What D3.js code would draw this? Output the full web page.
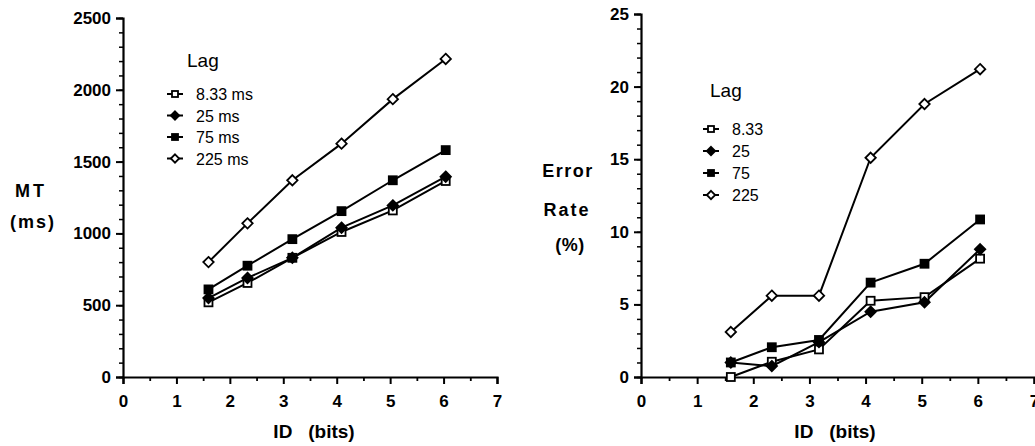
<!DOCTYPE html>
<html>
<head>
<meta charset="utf-8">
<script src="https://cdn.jsdelivr.net/npm/d3@7/dist/d3.min.js"></script>
<style>
  body { margin: 0; background: #fff; }
  svg { display: block; }
  text { font-family: "Liberation Sans", Arial, sans-serif; fill: #000; }
</style>
</head>
<body>
<div id="chart"></div>
<script>
// x positions (ID, bits)
const idBits = [1.6, 2.33, 3.17, 4.09, 5.05, 6.04];
const lags = ["8.33", "25", "75", "225"];

// movement time (ms) per lag
const mt833 = [520, 655, 830, 1010, 1160, 1365];
const mt25 = [550, 690, 830, 1040, 1195, 1395];
const mt75 = [610, 775, 960, 1155, 1370, 1580];
const mt225 = [800, 1070, 1370, 1625, 1935, 2215];

// error rate (%) per lag
const er833 = [0, 1.05, 1.9, 5.25, 5.5, 8.15];
const er25 = [1.0, 0.75, 2.4, 4.5, 5.15, 8.8];
const er75 = [1.0, 2.05, 2.55, 6.5, 7.8, 10.85];
const er225 = [3.1, 5.6, 5.6, 15.1, 18.8, 21.2];

const width = 1035, height = 446;
const svg = d3.select("#chart").append("svg")
  .attr("width", width).attr("height", height);

// marker: 0 open square, 1 filled diamond, 2 filled square, 3 open diamond
function drawMarker(g, type, x, y, s) {
  if (type === 0 || type === 2) {
    g.append("rect").attr("x", x - s).attr("y", y - s)
      .attr("width", 2 * s).attr("height", 2 * s)
      .attr("fill", type === 2 ? "#000" : "#fff")
      .attr("stroke", "#000").attr("stroke-width", 1.8);
  } else {
    const d = s + 1.2;
    g.append("path")
      .attr("d", `M${x},${y - d}L${x + d},${y}L${x},${y + d}L${x - d},${y}Z`)
      .attr("fill", type === 1 ? "#000" : "#fff")
      .attr("stroke", "#000").attr("stroke-width", 1.8);
  }
}

function panel(cfg) {
  const g = svg.append("g");
  const x = d3.scaleLinear().domain([0, 7]).range([cfg.x0, cfg.x1]);
  const y = d3.scaleLinear().domain([0, cfg.yMax]).range([cfg.y0, cfg.y1]);

  // minor ticks
  g.append("g").attr("transform", `translate(0,${cfg.y0})`)
    .call(d3.axisBottom(x).tickValues(d3.range(0.5, 7, 1)).tickSize(4).tickFormat(""))
    .call(a => a.select(".domain").remove())
    .selectAll("line").attr("stroke-width", 1.8);
  g.append("g").attr("transform", `translate(${cfg.x0},0)`)
    .call(d3.axisLeft(y).tickValues(d3.range(0, cfg.yMax + 1e-9, cfg.yMinor)).tickSize(4).tickFormat(""))
    .call(a => a.select(".domain").remove())
    .selectAll("line").attr("stroke-width", 1.5);

  // major ticks
  const xa = g.append("g").attr("transform", `translate(0,${cfg.y0})`)
    .call(d3.axisBottom(x).tickValues(d3.range(0, 8)).tickSize(7).tickPadding(11).tickFormat(d3.format("d")));
  const ya = g.append("g").attr("transform", `translate(${cfg.x0},0)`)
    .call(d3.axisLeft(y).tickValues(d3.range(0, cfg.yMax + 1e-9, cfg.yStep)).tickSize(7).tickPadding(5).tickFormat(d3.format("d")));
  [xa, ya].forEach(a => {
    a.select(".domain").attr("stroke-width", 2.2);
    a.selectAll("line").attr("stroke-width", 2);
    a.selectAll("text").style("font-family", "'Liberation Sans', Arial, sans-serif")
      .style("font-size", "17px").style("font-weight", "bold").attr("fill", "#000");
  });

  // series
  const line = d3.line().x((d, i) => x(idBits[i])).y(d => y(d));
  cfg.series.forEach(vals => {
    g.append("path").attr("d", line(vals)).attr("fill", "none")
      .attr("stroke", "#000").attr("stroke-width", 2);
  });
  cfg.series.forEach((vals, k) => {
    vals.forEach((v, i) => drawMarker(g, k, x(idBits[i]), y(v), 4));
  });

  // x title
  g.append("text").attr("x", cfg.xTitleX).attr("y", 438).attr("text-anchor", "middle")
    .style("font-size", "19px").style("font-weight", "bold").style("white-space", "pre")
    .text("ID   (bits)");

  // y title lines
  cfg.yTitle.forEach(t => {
    g.append("text").attr("x", t.x).attr("y", t.y).attr("text-anchor", "middle")
      .style("font-size", t.size + "px").style("font-weight", "bold")
      .style("letter-spacing", t.ls + "px").text(t.text);
  });

  // legend
  g.append("text").attr("x", cfg.lgX - 1).attr("y", cfg.lgY)
    .style("font-size", "19px").text("Lag");
  lags.forEach((lab, k) => {
    const ly = cfg.lgSym + k * cfg.lgStep;
    g.append("line").attr("x1", cfg.lgSymX - 8).attr("x2", cfg.lgSymX + 8)
      .attr("y1", ly).attr("y2", ly).attr("stroke", "#000").attr("stroke-width", 2);
    drawMarker(g, k, cfg.lgSymX, ly, 3);
    g.append("text").attr("x", cfg.lgSymX + 21).attr("y", ly + 6)
      .style("font-size", "16px").text(lab + cfg.unit);
  });
}

panel({
  x0: 123, x1: 497, y0: 377, y1: 18, yMax: 2500, yStep: 500, yMinor: 100,
  series: [mt833, mt25, mt75, mt225],
  xTitleX: 314,
  yTitle: [
    { x: 31, y: 197, text: "MT", size: 18, ls: 3 },
    { x: 33, y: 228, text: "(ms)", size: 18, ls: 2 }
  ],
  lgX: 188, lgY: 67, lgSymX: 175, lgSym: 94, lgStep: 21.5, unit: " ms"
});

panel({
  x0: 641, x1: 1034, y0: 377, y1: 14, yMax: 25, yStep: 5, yMinor: 1,
  series: [er833, er25, er75, er225],
  xTitleX: 835,
  yTitle: [
    { x: 568, y: 177, text: "Error", size: 18, ls: 1.5 },
    { x: 567, y: 216, text: "Rate", size: 18, ls: 2 },
    { x: 570, y: 251, text: "(%)", size: 18, ls: 0.5 }
  ],
  lgX: 711, lgY: 97, lgSymX: 711, lgSym: 129, lgStep: 22, unit: ""
});
</script>
</body>
</html>
